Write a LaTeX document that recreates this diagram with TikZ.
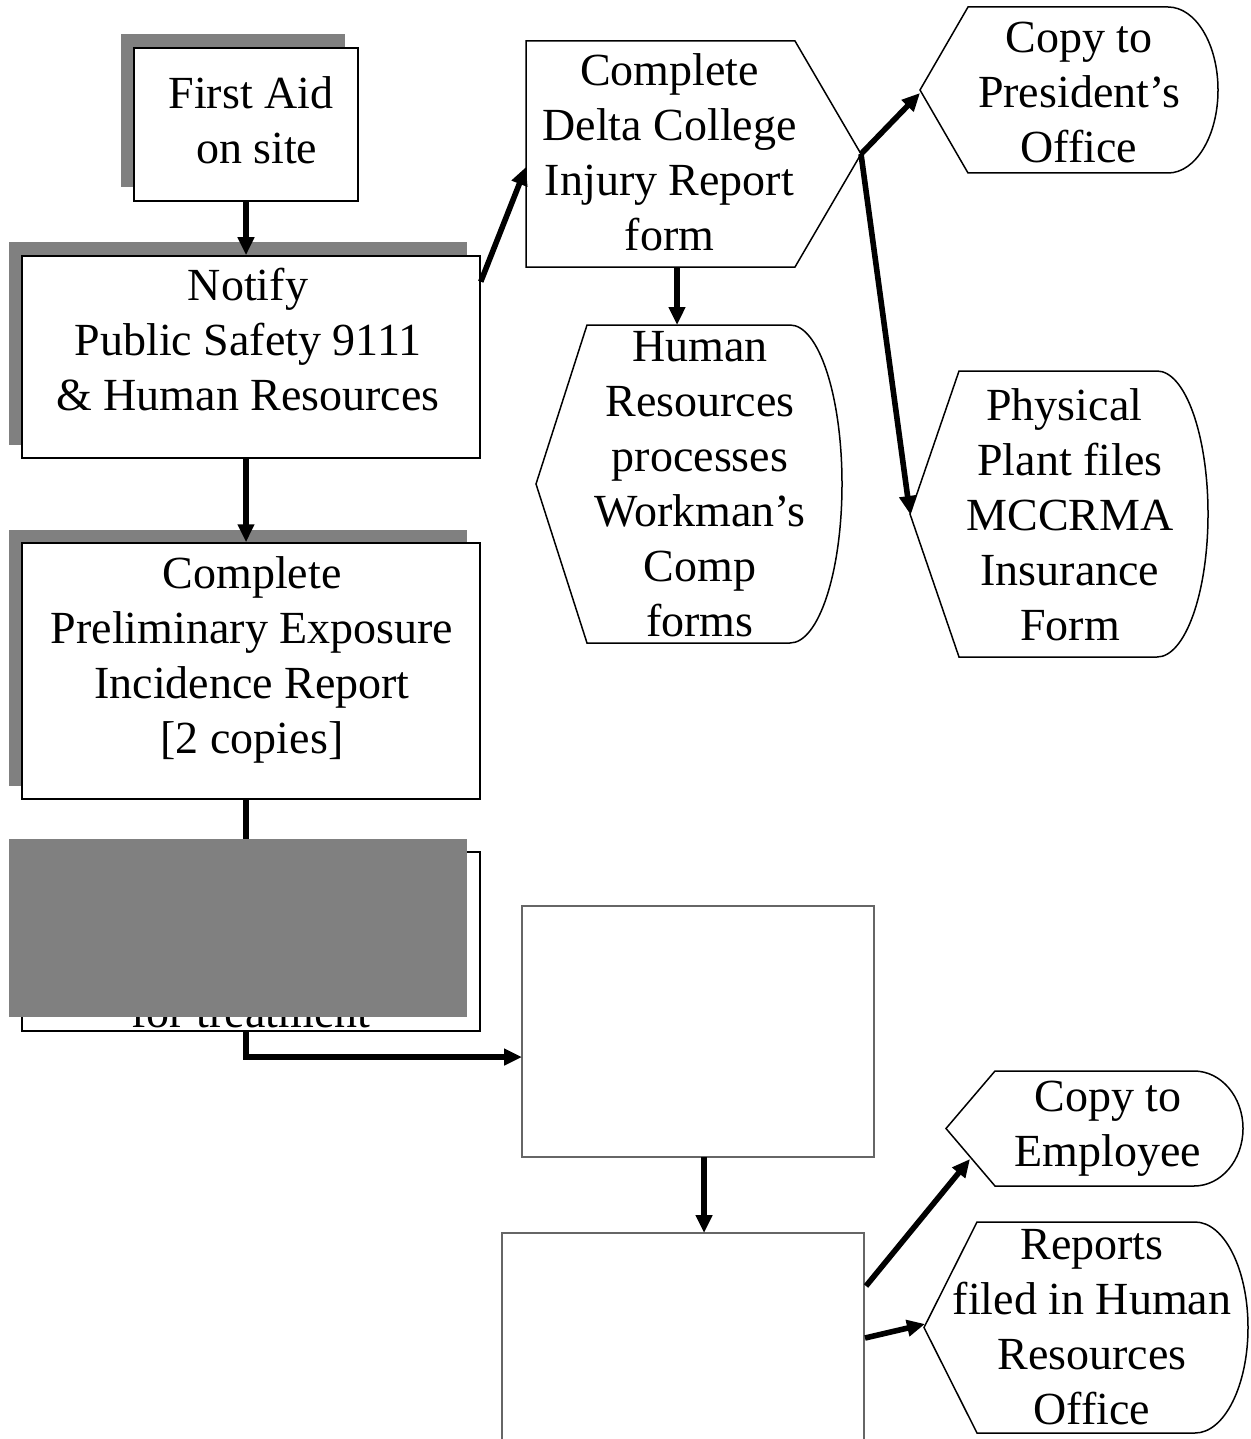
\documentclass[tikz,border=0pt]{standalone}
\usepackage{fontspec}
\setmainfont{Liberation Serif}
\usetikzlibrary{arrows.meta,shadows,calc}
% display shape: #1 L tip x, #2 corner x, #3 arc start x, #4 right x, #5 top y, #6 bottom y
\newcommand{\dispshape}[6]{%
  \draw[shp] (#1,{(#5+#6)/2}) -- (#2,#5) -- (#3,#5)
    .. controls ({#3+0.5523*(#4-#3)},#5) and (#4,{(#5+#6)/2-0.5523*(#6-#5)/2}) .. (#4,{(#5+#6)/2})
    .. controls (#4,{(#5+#6)/2+0.5523*(#6-#5)/2}) and ({#3+0.5523*(#4-#3)},#6) .. (#3,#6)
    -- (#2,#6) -- cycle;}
\tikzset{
  box/.style={draw=black, line width=0.75pt, fill=white, inner sep=0pt, rectangle},
  shbox/.style={box, drop shadow={shadow xshift=-6.75pt, shadow yshift=6.75pt, fill=black!50, opacity=1}},
  plainbox/.style={draw=black!60, line width=0.6pt, fill=white, inner sep=0pt, rectangle},
  txt/.style={align=center, inner sep=0pt, font=\fontsize{23}{27.5}\selectfont,
    execute at begin node=\strut, execute at end node=\strut, yshift=-2pt},
  conn/.style={line width=2.8pt, -{Triangle[length=9pt,width=8pt]}},
  shp/.style={draw=black, line width=0.75pt, fill=white, line join=miter},
}
\begin{document}
\begin{tikzpicture}[x=0.5pt,y=-0.5pt]
\useasboundingbox (0,0) rectangle (1250,1439);
\fill[white] (0,0) rectangle (1250,1439);
\clip (0,0) rectangle (1250,1439);

% left column boxes
\node[shbox, minimum width=112pt, minimum height=76.5pt] (fa) at (246,124.5) {};
\node[txt] (fat) at (251,124.5) {First Aid\\\ on site};
\node[shbox, minimum width=229pt, minimum height=101pt] (nt) at (251,357) {};
\node[txt] (ntt) at (248,344) {Notify\\Public Safety 9111\\\& Human Resources};
\node[shbox, minimum width=229pt, minimum height=128pt] (pr) at (251,671) {};
\node[txt] (prt) at (252,659.5) {Complete\\Preliminary Exposure\\Incidence Report\\{[2 copies]}};

% middle/bottom blank boxes
\node[plainbox, minimum width=176pt, minimum height=125.5pt] (b1) at (698,1031.5) {};
\node[plainbox, minimum width=181pt, minimum height=108.5pt] (b2) at (683,1341.5) {};
\coordinate (b1in) at (522,1057);
\coordinate (b1out) at (704,1157);
\coordinate (b2in) at (704,1233);
\coordinate (b2o1) at (866,1286);
\coordinate (b2o2) at (865,1338);

% spine behind the covered box
\draw[conn] (fa.south |- pr.south) |- (b1in);

% covered box
\node[box, minimum width=229pt, minimum height=89.5pt] (hb) at (251,941.5) {};
\node[txt] (hbt) at (251,1012) {for treatment};
\node[fill=black!50, inner sep=0pt, minimum width=229pt, minimum height=89pt] (cover) at (238,928) {};

% Delta College shape
\draw[shp] (526,41) -- (795,41) -- (861,154) -- (795,267) -- (526,267) -- cycle;
\node[txt] (dct) at (669.5,156.5) {Complete\\Delta College\\Injury Report\ \\form};
\coordinate (dtip) at (861,154);
\coordinate (dleft) at (526,167);
\coordinate (dbot) at (677,267);

% display shapes
\dispshape{920}{968}{1168}{1218}{7}{173}
\node[txt] (pst) at (1079,97) {Copy to\\President’s\ \\Office};
\coordinate (pstip) at (920,93);

\dispshape{536}{587}{790}{842}{325}{643}
\node[txt] (hrt) at (700,488.5) {Human\ \\Resources\\processes\\Workman’s\\Comp\\forms};
\coordinate (hrtop) at (677,325);

\dispshape{910}{959}{1157}{1208}{371}{657}
\node[txt] (pht) at (1070,519) {Physical\ \ \\Plant files\ \\MCCRMA\\Insurance\ \\Form};
\coordinate (phtip) at (910,514);

\dispshape{946}{995}{1194}{1243}{1071}{1186}
\node[txt] (emt) at (1108,1128.5) {Copy to\\Employee};
\coordinate (emin) at (970,1159);

\dispshape{924}{977}{1195}{1248}{1222}{1433}
\node[txt] (rpt) at (1092,1331.5) {Reports\ \\filed in Human\\Resources\ \\Office\ };
\coordinate (rpin) at (925,1324);

% connectors
\coordinate (ntout) at ($(nt.north east)!0.13!(nt.south east)$);
\draw[conn] (fa.south) -- (fa.south |- nt.north);
\draw[conn] (fa.south |- nt.south) -- (fa.south |- pr.north);
\draw[conn] (ntout) -- (dleft);
\draw[conn] (dbot) -- (hrtop);
\draw[conn] (dtip) -- (pstip);
\draw[conn] (dtip) -- (phtip);
\draw[conn] (b1out) -- (b2in);
\draw[conn] (b2o1) -- (emin);
\draw[conn] (b2o2) -- (rpin);
\end{tikzpicture}
\end{document}
